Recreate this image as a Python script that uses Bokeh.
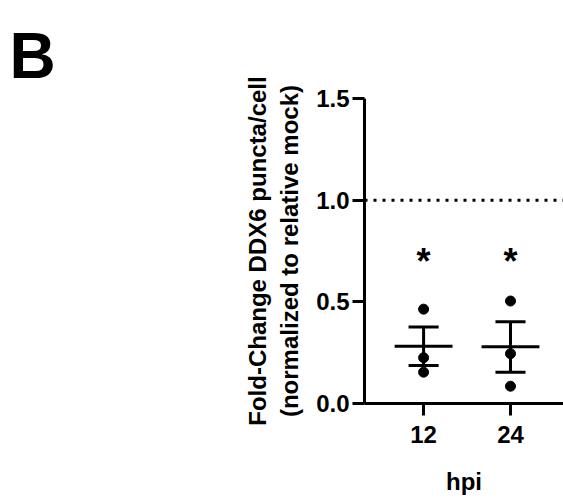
from bokeh.plotting import figure
from bokeh.models import Range1d, FixedTicker, Span
from bokeh.core.properties import value
from bokeh.embed import file_html
from bokeh.resources import INLINE

# ---- data ----
hpi = ["12", "24"]
points_12 = [0.464, 0.225, 0.154]
points_24 = [0.504, 0.245, 0.085]
means = [0.282, 0.279]
sem_upper = [0.376, 0.402]
sem_lower = [0.187, 0.154]
star_y = [0.73, 0.73]
stars = ["*", "*"]
y_ticks = [0.0, 0.5, 1.0, 1.5]
reference_level = 1.0
panel_letter = "B"

FONT = "Liberation Sans"
xpos = list(range(len(hpi)))

p = figure(width=563, height=502, output_backend="svg", toolbar_location=None,
           x_range=Range1d(-0.68, 1.61), y_range=Range1d(0, 1.5),
           min_border_left=364, min_border_right=0, min_border_top=98, min_border_bottom=99)
p.outline_line_color = None
p.xgrid.visible = False
p.ygrid.visible = False
p.background_fill_color = "white"
p.border_fill_color = "white"

# panel letter as title
p.title.text = panel_letter
p.title.align = "left"
p.title.vertical_align = "top"
p.title.text_font = FONT
p.title.text_font_style = "bold"
p.title.text_font_size = "64px"
p.title.text_color = "black"
p.title.offset = -355

# axes
for ax in (p.xaxis[0], p.yaxis[0]):
    ax.axis_line_width = 3
    ax.axis_line_color = "black"
    ax.major_tick_line_width = 3
    ax.major_tick_line_color = "black"
    ax.major_tick_out = 12
    ax.major_tick_in = 0
    ax.minor_tick_line_color = None
    ax.major_label_text_font = FONT
    ax.major_label_text_font_style = "bold"
    ax.major_label_text_font_size = "24px"
    ax.major_label_text_color = "black"
    ax.axis_label_text_font = FONT
    ax.axis_label_text_font_style = "bold"
    ax.axis_label_text_font_size = "24px"
    ax.axis_label_text_color = "black"

p.yaxis.ticker = FixedTicker(ticks=y_ticks)
p.yaxis.major_label_overrides = {t: f"{t:.1f}" for t in y_ticks}
p.yaxis.major_label_standoff = 3
p.yaxis.axis_label = "Fold-Change DDX6 puncta/cell\n(normalized to relative mock)"
p.yaxis.axis_label_standoff = 10

p.xaxis.ticker = FixedTicker(ticks=xpos)
p.xaxis.major_label_overrides = {i: h for i, h in zip(xpos, hpi)}
p.xaxis.major_label_standoff = 10
p.xaxis.axis_label = "hpi"
p.xaxis.axis_label_standoff = 22

# reference dotted line
p.add_layout(Span(location=reference_level, dimension="width", line_color="black",
                  line_width=3, line_dash="3 6"))

# points
for i, pts in enumerate([points_12, points_24]):
    p.scatter([xpos[i]] * len(pts), pts, size=10, color="black")

# mean and SEM
half_mean = 0.333
half_cap = 0.173
p.segment([x - half_mean for x in xpos], means, [x + half_mean for x in xpos], means,
          line_color="black", line_width=3)
p.segment(xpos, sem_lower, xpos, sem_upper, line_color="black", line_width=3)
p.segment([x - half_cap for x in xpos], sem_upper, [x + half_cap for x in xpos], sem_upper,
          line_color="black", line_width=3)
p.segment([x - half_cap for x in xpos], sem_lower, [x + half_cap for x in xpos], sem_lower,
          line_color="black", line_width=3)

# significance stars
p.text(x=xpos, y=star_y, text=stars, text_font=value(FONT), text_font_style="bold",
       text_font_size="36px", text_align="center", text_baseline="middle", text_color="black",
       y_offset=6)

open("out.html", "w").write(file_html(p, INLINE))
